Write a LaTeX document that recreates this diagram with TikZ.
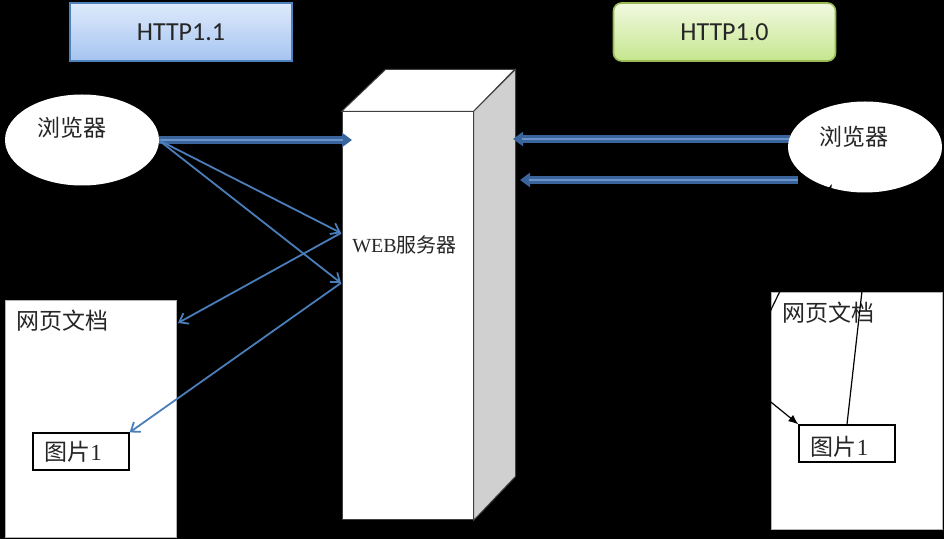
\documentclass[tikz,border=0pt]{standalone}
\usepackage{fontspec}
\setmainfont{Liberation Serif}
\newfontfamily\cjk{Noto Sans CJK SC}
\newfontfamily\calib{Carlito}
\usepackage{xcolor}
\usetikzlibrary{shapes.geometric,arrows.meta}

\definecolor{arrowblue}{RGB}{74,126,187}
\definecolor{fatblue}{RGB}{58,100,156}
\definecolor{fatlight}{RGB}{104,146,200}
\definecolor{httpblueT}{RGB}{222,234,252}
\definecolor{httpblueB}{RGB}{166,196,240}
\definecolor{httpblueD}{RGB}{79,129,189}
\definecolor{httpgreenT}{RGB}{241,249,224}
\definecolor{httpgreenB}{RGB}{197,230,142}
\definecolor{httpgreenD}{RGB}{152,185,84}
\definecolor{sidegray}{RGB}{208,208,208}

\tikzset{
  protobox/.style={minimum width=111pt, minimum height=29pt, line width=0.8pt,
    font=\calib\fontsize{13}{15}\selectfont, text=black!85},
  browser/.style={ellipse, fill=white, minimum width=77pt, minimum height=45.5pt},
  cjklabel/.style={font=\cjk\fontsize{11.5}{13}\selectfont, text=black!85, inner sep=0pt},
  docbox/.style={draw=gray!60, fill=white, line width=0.4pt,
    minimum width=85.5pt, minimum height=118.5pt},
  picbox/.style={draw=black, fill=white, line width=0.6pt,
    minimum width=48pt, minimum height=18.5pt},
  fatarrow/.style={draw=fatblue, line width=3.6pt, -{Triangle[length=5pt,width=7pt]},
    postaction={draw=fatlight, line width=1.2pt, shorten >=4.5pt, -}},
  thinarrow/.style={draw=arrowblue, line width=0.9pt, -{Straight Barb[length=4pt,width=6pt]}},
  blackarrow/.style={draw=black, line width=0.6pt, -{Latex[length=5pt,width=4pt]}}
}

\begin{document}
\begin{tikzpicture}[x=0.5pt, y=-0.5pt]
  % Background
  \fill[black] (0,0) rectangle (944,539);
  \useasboundingbox (0,0) rectangle (944,539);

  % Protocol titles
  \node[protobox, draw=httpblueD, top color=httpblueT, bottom color=httpblueB] (h11) at (181,32) {HTTP1.1};
  \node[protobox, draw=httpgreenD, top color=httpgreenT, bottom color=httpgreenB, rounded corners=4pt] (h10) at (724.5,32) {HTTP1.0};

  % Server block
  \node[draw=black!75, fill=white, line width=0.5pt, minimum width=65.5pt, minimum height=204pt] (srv) at (407.5,316) {};
  \filldraw[fill=white, draw=black!75, line width=0.5pt] (srv.north west) -- ++(44,-42) -- ++(129,0) -- (srv.north east) -- cycle;
  \filldraw[fill=sidegray, draw=black!75, line width=0.5pt] (srv.north east) -- ++(42,-42) -- ++(0,407) -- (srv.south east) -- cycle;
  \node[font=\fontsize{10}{12}\selectfont, text=black!85] (srvt) at (404.5,245) {WEB{\cjk 服务器}};

  % Documents
  \node[docbox] (ldoc) at (90.5,418.5) {};
  \node[cjklabel, anchor=west] (ldoct) at (16,321) {网页文档};
  \node[picbox] (lpic) at (81,451.5) {};
  \node[cjklabel] (lpict) at (73,452) {图片{\rmfamily 1}};

  \node[docbox] (rdoc) at (856.5,410.5) {};
  \node[cjklabel, anchor=west] (rdoct) at (782,313) {网页文档};
  \node[picbox] (rpic) at (847,443.5) {};
  \node[cjklabel] (rpict) at (839.5,447) {图片{\rmfamily 1}};

  % Points on the server and free ends
  \coordinate (sa) at (352,140);
  \coordinate (sb) at (341,233);
  \coordinate (sc) at (341,283);
  \coordinate (sd) at (513,139);
  \coordinate (se) at (520,180);
  \coordinate (ra) at (790,139);
  \coordinate (rb2) at (798,180);
  \coordinate (ldin) at (178,323);
  \coordinate (tailA) at (766,320);
  \coordinate (tailB) at (745,381);
  \coordinate (notch) at (832,184);

  % HTTP1.1 connections
  \draw[fatarrow] (82+76.5,140) coordinate (lbe) -- (sa);
  \draw[thinarrow] (lbe) -- (sb);
  \draw[thinarrow] (lbe) -- (sc);
  \draw[thinarrow] (sb) -- (ldin);
  \draw[thinarrow] (sc) -- (lpic.north east);

  % HTTP1.0 connections
  \draw[fatarrow] (ra) -- (sd);
  \draw[fatarrow] (rb2) -- (se);

  % Browsers
  \node[browser] (lb) at (82,140) {};
  \node[cjklabel] (lbt) at (72,128) {浏览器};
  \node[browser] (rb) at (865,147) {};
  \node[cjklabel] (rbt) at (854,137) {浏览器};

  % Black links on the right
  \draw[blackarrow] (tailA) -- (notch);
  \draw[blackarrow] (tailB) -- (rpic.north west);
  \draw[draw=black, line width=0.6pt] (rpic.north) -- (rb.-80);
\end{tikzpicture}
\end{document}
